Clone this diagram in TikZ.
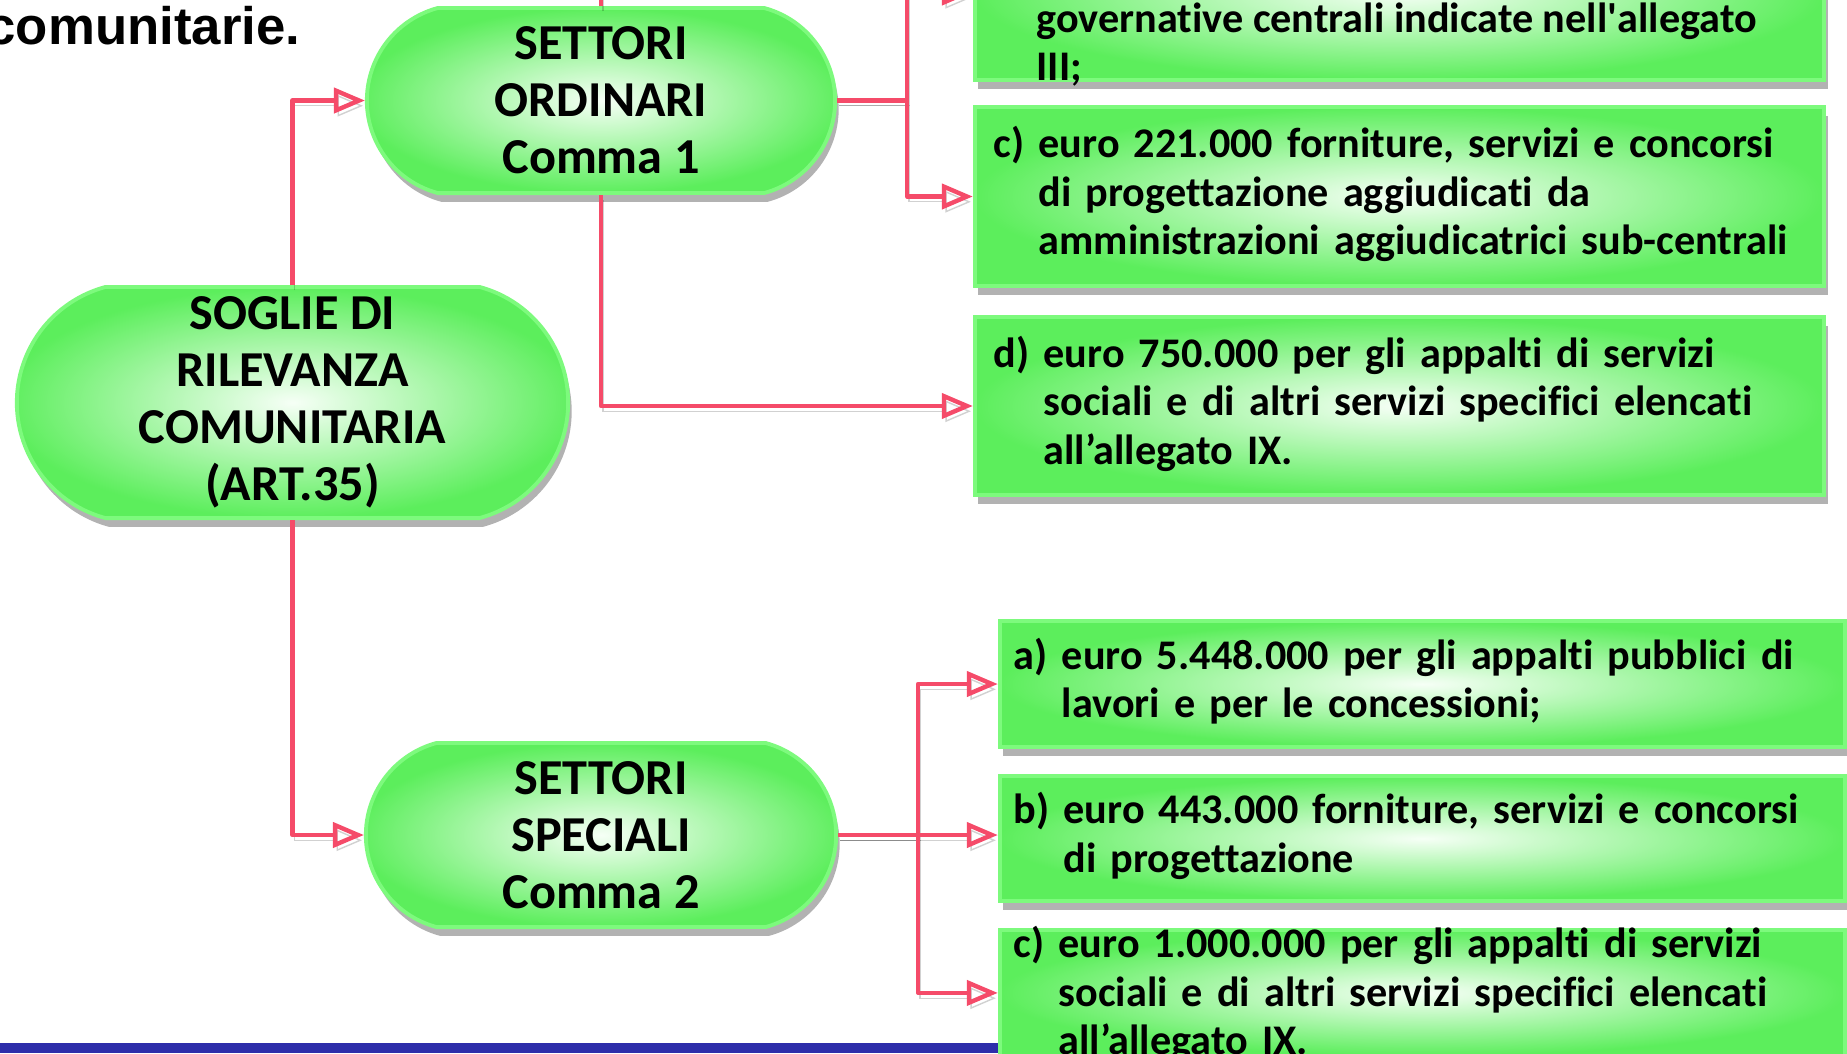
\documentclass[tikz,border=0pt]{standalone}
\usepackage{fontspec}
\setmainfont{Carlito}[Ligatures={TeX,NoCommon}]
\newfontfamily\headfont{Liberation Sans}
\usetikzlibrary{positioning,arrows.meta,shapes.misc,shadows}

\definecolor{linkred}{RGB}{245,75,105}
\definecolor{boxgreen}{RGB}{92,238,92}
\definecolor{boxrim}{RGB}{125,250,125}
\definecolor{boxcore}{RGB}{246,255,246}
\definecolor{barblue}{RGB}{46,46,170}

\newcommand{\voce}[2]{\begin{tabular}[t]{@{}l@{\ }l@{}}#1 & #2\end{tabular}}

\begin{document}
\begin{tikzpicture}[
    x=0.01cm, y=0.01cm,
    shadowed/.style={drop shadow={shadow xshift=1pt, shadow yshift=-2.5pt, fill=black, opacity=0.3}},
    stad/.style={rounded rectangle, rounded rectangle arc length=150, draw=boxrim, line width=1.1pt,
      inner color=boxcore, outer color=boxgreen, inner sep=0pt, align=center,
      font=\fontsize{14.3}{16.2}\selectfont\bfseries, shadowed},
    box/.style={rectangle, draw=boxrim, line width=1.1pt, inner color=boxcore, outer color=boxgreen,
      align=left, inner xsep=0.19cm, inner ysep=0pt, text width=8.11cm, minimum width=8.49cm,
      font=\fontsize{12}{13.8}\selectfont\bfseries, shadowed},
    sbox/.style={box, inner xsep=0.14cm, text width=8.17cm, minimum width=8.45cm},
    link/.style={linkred, line width=1.25pt, line join=round,
      preaction={draw=black, opacity=0.18, transform canvas={xshift=0.6pt, yshift=-1.5pt}}},
    arr/.style={link, -{Triangle[open, length=0.31cm, width=0.25cm]}},
  ]
  \useasboundingbox (0,0) rectangle (1847,-1053);
  \clip (0,0) rectangle (1847,-1053);

  \fill[barblue] (0,-1043) rectangle (1847,-1053);

  \node[anchor=base east, inner sep=0pt, font=\headfont\bfseries\fontsize{15}{17}\selectfont] (head) at (301,-44) {comunitarie.};

  \node[stad, minimum width=5.51cm, minimum height=2.31cm] (sog) at (292.5,-402.5) {SOGLIE DI\\RILEVANZA\\COMUNITARIA\\(ART.35)};
  \node[stad, minimum width=4.68cm, minimum height=1.85cm] (so) at (601,-100.5) {SETTORI\\ORDINARI\\Comma 1};
  \node[stad, minimum width=4.70cm, minimum height=1.84cm] (ss) at (601,-835) {SETTORI\\SPECIALI\\Comma 2};

  % settori ordinari
  \node[box, minimum height=1.79cm] (oc) at (1399.5,-196.5) {\voce{c)}{euro 221.000 forniture, servizi e concorsi\\&di progettazione aggiudicati da\\&amministrazioni aggiudicatrici sub-centrali}};
  \node[box, minimum height=1.75cm, above=0.23cm of oc] (ob) {};
  \node[anchor=base west, inner sep=0pt, font=\fontsize{12}{13.8}\selectfont\bfseries] (obt) at (1036,-32) {\begin{tabular}[t]{@{}l@{}}governative centrali indicate nell\textquotesingle allegato\\III;\end{tabular}};
  \node[box, minimum height=1.78cm, below=0.27cm of oc] (od) {\voce{d)}{euro 750.000 per gli appalti di servizi\\&sociali e di altri servizi specifici elencati\\&all’allegato IX.}};
  \coordinate (oa) at (601,10);

  % settori speciali
  \node[sbox, minimum height=1.26cm] (sa) at (1422.5,-684) {\voce{a)}{euro 5.448.000 per gli appalti pubblici di\\&lavori e per le concessioni;}};
  \node[sbox, minimum height=1.25cm, below=0.25cm of sa] (sb) {\voce{b)}{euro 443.000 forniture, servizi e concorsi\\&di progettazione}};
  \node[sbox, minimum height=1.26cm, text height=0.2cm, text depth=0.9cm, below=0.25cm of sb] (sc) {\voce{c)}{euro 1.000.000 per gli appalti di servizi\\&sociali e di altri servizi specifici elencati\\&all’allegato IX.}};

  \draw[arr] (sog.north) |- (so.west);
  \draw[arr] (sog.south) |- (ss.west);
  \draw[link] (so.north) -- (oa);
  \draw[arr] (so.south) |- (od.west);
  \draw[arr] (so.east) -- ++(70,0) |- (ob.west);
  \draw[arr] (so.east) -- ++(70,0) |- (oc.west);
  \draw[arr] (ss.east) -- ++(80,0) |- (sa.west);
  \draw[arr] (ss.east) -- (ss.east -| sb.west);
  \draw[arr] (ss.east) -- ++(80,0) |- (sc.west);
\end{tikzpicture}
\end{document}
